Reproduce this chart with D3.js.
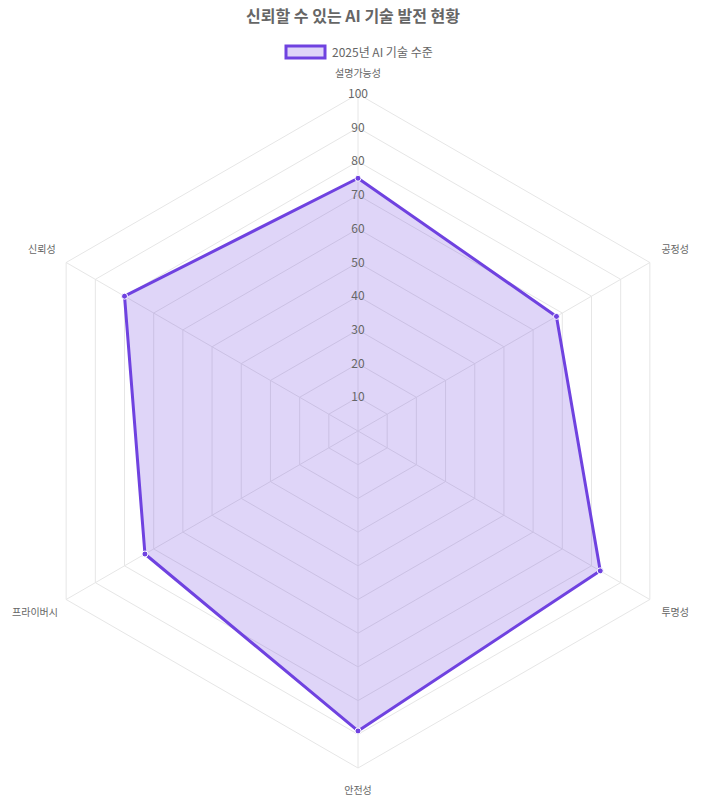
<!DOCTYPE html>
<html><head><meta charset="utf-8">
<script src="https://cdn.jsdelivr.net/npm/d3@7"></script>
<style>body{margin:0;background:#fff;font-family:"Noto Sans CJK KR","Noto Sans",sans-serif}</style>
</head><body><svg id="chart" width="706" height="807"></svg>
<script>
const axes = ["설명가능성", "공정성", "투명성", "안전성", "프라이버시", "신뢰성"];
const values = [75, 68, 83, 89, 73, 80];
const ticks = [10, 20, 30, 40, 50, 60, 70, 80, 90, 100];
const seriesName = "2025년 AI 기술 수준";

const svg = d3.select("#chart");
const cx = 358, cy = 431, R = 337;
const r = d3.scaleLinear().domain([0, 100]).range([0, R]);
const ang = i => -Math.PI / 2 + i * 2 * Math.PI / axes.length;
const pt = (i, v) => [cx + r(v) * Math.cos(ang(i)), cy + r(v) * Math.sin(ang(i))];

svg.append("text").attr("x", 353).attr("y", 22).attr("text-anchor", "middle")
  .attr("font-size", 16).attr("font-weight", "bold").attr("fill", "#666").text("신뢰할 수 있는 AI 기술 발전 현황");
svg.append("rect").attr("x", 286).attr("y", 46).attr("width", 39).attr("height", 12)
  .attr("fill", "rgba(111,66,225,0.22)").attr("stroke", "#6f42e0").attr("stroke-width", 3);
svg.append("text").attr("x", 332).attr("y", 56.5).attr("font-size", 12).attr("fill", "#666").text(seriesName);

const g = svg.append("g");
ticks.forEach(t => {
  g.append("polygon").attr("points", axes.map((a, i) => pt(i, t).join(",")).join(" "))
    .attr("fill", "none").attr("stroke", "#e6e6e6").attr("stroke-width", 1);
});
axes.forEach((a, i) => {
  const p = pt(i, 100);
  g.append("line").attr("x1", cx).attr("y1", cy).attr("x2", p[0]).attr("y2", p[1])
    .attr("stroke", "#e6e6e6");
});

const line = d3.line().curve(d3.curveLinearClosed);
const pts = values.map((v, i) => pt(i, v));
g.append("path").attr("d", line(pts)).attr("fill", "rgba(111,66,225,0.22)")
  .attr("stroke", "#6f42e0").attr("stroke-width", 3).attr("stroke-linejoin", "round");
g.selectAll("circle").data(pts).join("circle").attr("cx", d => d[0]).attr("cy", d => d[1])
  .attr("r", 3).attr("fill", "#6f42e0").attr("stroke", "#fff").attr("stroke-width", 1);

ticks.forEach(t => {
  g.append("text").attr("x", cx).attr("y", cy - r(t) + 4).attr("text-anchor", "middle")
    .attr("font-size", 12).attr("fill", "#666").text(t);
});

const labelPos = [[358, 77, "middle"], [689, 253, "end"], [689, 616, "end"],
  [358, 794, "middle"], [12, 616, "start"], [28, 253, "start"]];
axes.forEach((a, i) => {
  const [x, y, an] = labelPos[i];
  svg.append("text").attr("x", x).attr("y", y).attr("text-anchor", an)
    .attr("font-size", 10).attr("fill", "#666").text(a);
});
</script></body></html>
